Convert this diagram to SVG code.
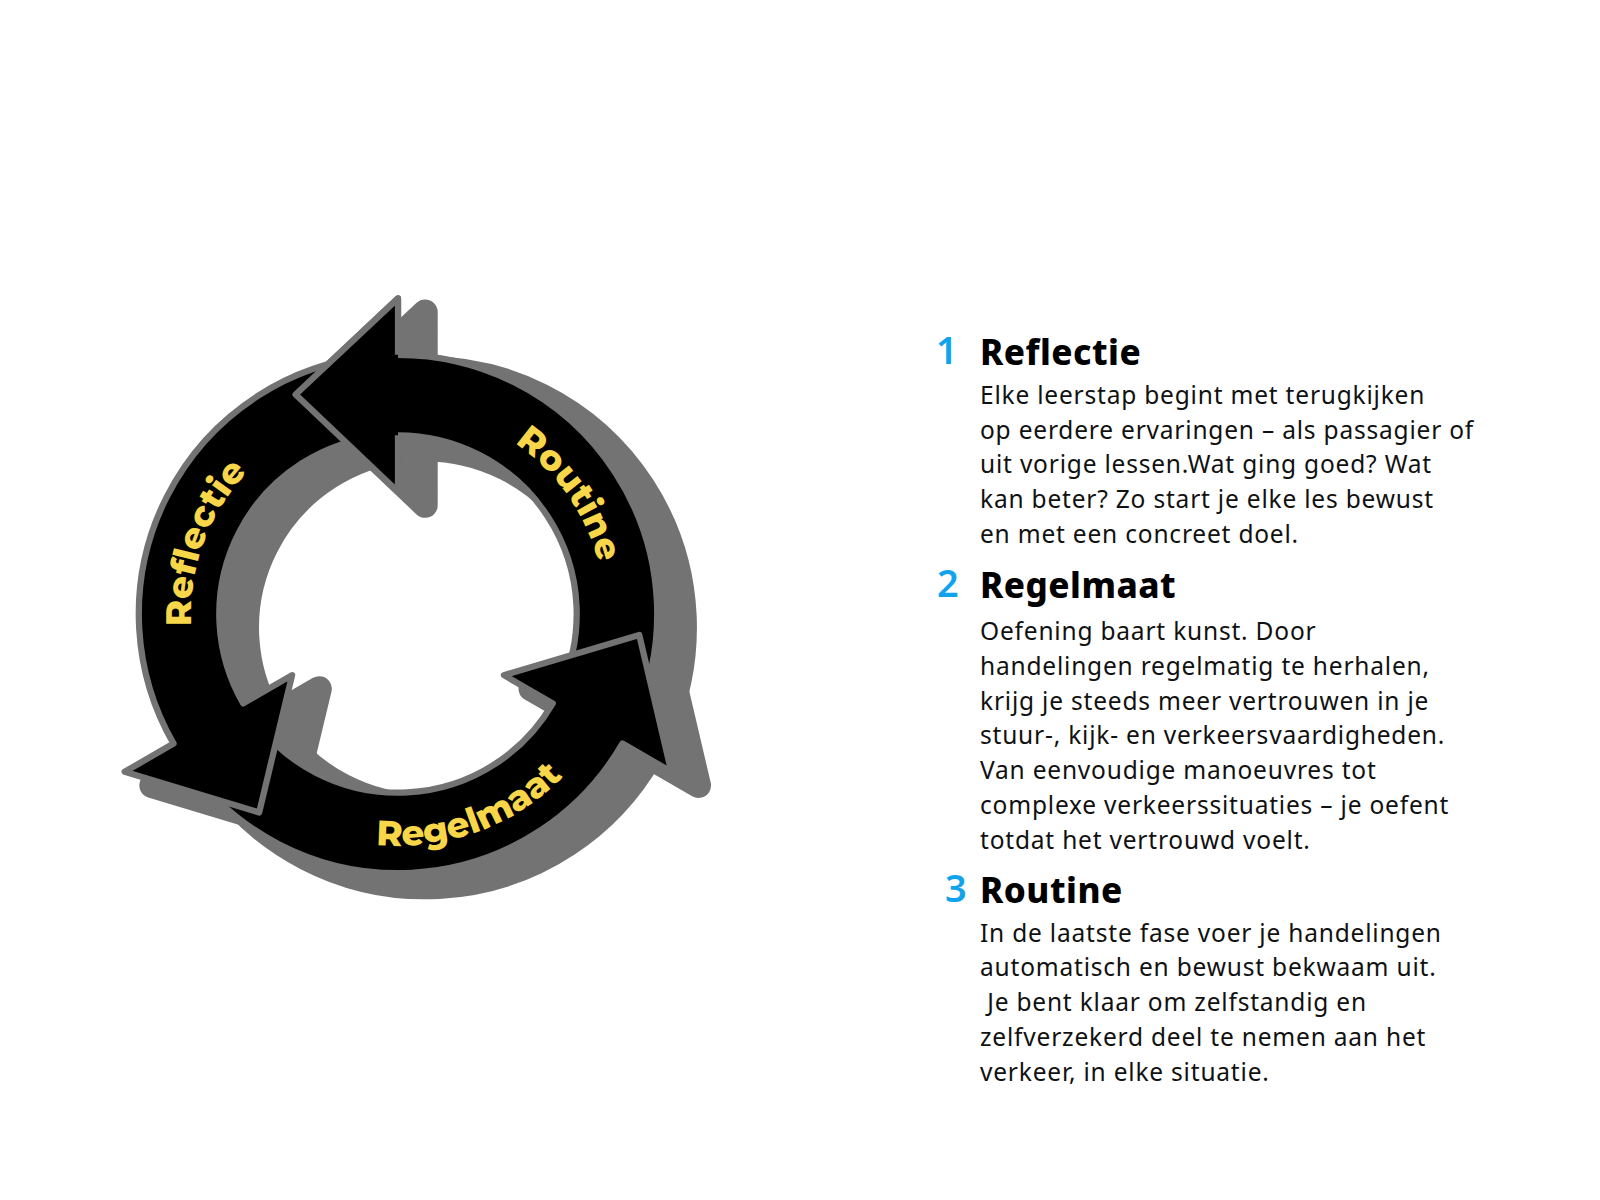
<svg xmlns="http://www.w3.org/2000/svg" width="1600" height="1200" viewBox="0 0 1600 1200">
<style>
.sh{fill:#737373;stroke:#737373;stroke-width:24;stroke-linejoin:round}
.ar{fill:#000;stroke:#737373;stroke-width:6;stroke-linejoin:round}
.lbl{font-family:"Montserrat","Noto Sans",sans-serif;font-weight:800;font-size:34px;fill:#f7d649}
.num{font-family:"Noto Sans",sans-serif;font-weight:600;font-size:38px;fill:#12a3ee}
.hd{font-family:"Noto Sans",sans-serif;font-weight:800;font-size:35px;fill:#000;letter-spacing:0.5px}
.bd{font-family:"Noto Sans",sans-serif;font-size:24.5px;fill:#111;letter-spacing:0.8px}
</style>
<defs>
<path id="arrow" d="M0,-302 L-98,-210 L0,-117 L0,-171 A171,171 0 0 1 156.2,69.6 L226.6,100.9 A248,248 0 0 0 0,-248 Z"/>
<path id="pRoutine" d="M0,-198 A198,198 0 0 1 186.1,67.7"/>
<path id="pRefl" d="M-162.2,113.6 A198,198 0 0 1 -51.2,-191.3"/>
<path id="pRegel" d="M-127.3,181.8 A222,222 0 0 0 214.4,57.5"/>
</defs>
<g id="cycle" transform="translate(398,614) scale(1.045)">
<g id="shadow" transform="translate(26,13)">
<use href="#arrow" class="sh"/>
<use href="#arrow" class="sh" transform="rotate(120)"/>
<use href="#arrow" class="sh" transform="rotate(240)"/>
</g>
<g id="arrows">
<use href="#arrow" class="ar"/>
<use href="#arrow" class="ar" transform="rotate(120)"/>
<use href="#arrow" class="ar" transform="rotate(240)"/>
<path d="M0,-302 L-98,-210 L0,-117 Z" fill="#000"/>
<path d="M0,-248 L0,-302 L-98,-210 L0,-117 L0,-171" fill="none" stroke="#737373" stroke-width="6" stroke-linejoin="round"/>
</g>
<g id="labels">
<text class="lbl"><textPath href="#pRoutine" startOffset="50%" text-anchor="middle">Routine</textPath></text>
<text class="lbl"><textPath href="#pRefl" startOffset="50%" text-anchor="middle">Reflectie</textPath></text>
<text class="lbl"><textPath href="#pRegel" startOffset="50%" text-anchor="middle">Regelmaat</textPath></text>
</g>
</g>
<g id="step1">
<text class="num" x="936" y="364">1</text>
<text class="hd" x="980" y="365">Reflectie</text>
<text class="bd" x="980" y="404">Elke leerstap begint met terugkijken</text>
<text class="bd" x="980" y="439">op eerdere ervaringen – als passagier of</text>
<text class="bd" x="980" y="473">uit vorige lessen.Wat ging goed? Wat</text>
<text class="bd" x="980" y="508">kan beter? Zo start je elke les bewust</text>
<text class="bd" x="980" y="543">en met een concreet doel.</text>
</g>
<g id="step2">
<text class="num" x="937" y="597">2</text>
<text class="hd" x="980" y="598">Regelmaat</text>
<text class="bd" x="980" y="640">Oefening baart kunst. Door</text>
<text class="bd" x="980" y="675">handelingen regelmatig te herhalen,</text>
<text class="bd" x="980" y="710">krijg je steeds meer vertrouwen in je</text>
<text class="bd" x="980" y="744">stuur-, kijk- en verkeersvaardigheden.</text>
<text class="bd" x="980" y="779">Van eenvoudige manoeuvres tot</text>
<text class="bd" x="980" y="814">complexe verkeerssituaties – je oefent</text>
<text class="bd" x="980" y="849">totdat het vertrouwd voelt.</text>
</g>
<g id="step3">
<text class="num" x="945" y="902">3</text>
<text class="hd" x="980" y="903">Routine</text>
<text class="bd" x="980" y="942">In de laatste fase voer je handelingen</text>
<text class="bd" x="980" y="976">automatisch en bewust bekwaam uit.</text>
<text class="bd" x="980" y="1011" xml:space="preserve"> Je bent klaar om zelfstandig en</text>
<text class="bd" x="980" y="1046">zelfverzekerd deel te nemen aan het</text>
<text class="bd" x="980" y="1081">verkeer, in elke situatie.</text>
</g>
</svg>
